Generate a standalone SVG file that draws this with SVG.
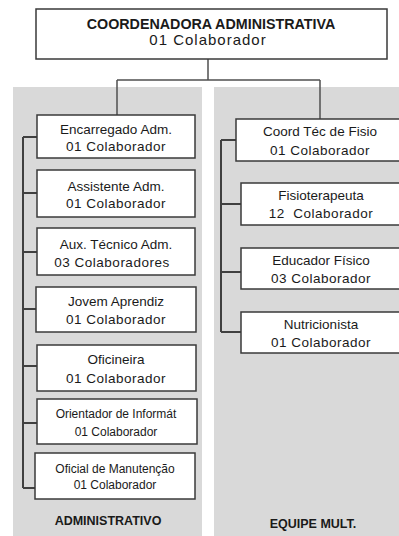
<svg xmlns="http://www.w3.org/2000/svg" width="399" height="536" viewBox="0 0 399 536">
<style>
.panel{fill:#d9d9d9}
.box{fill:#ffffff;stroke:#3a3a3a;stroke-width:1.5}
.t{font-family:"Liberation Sans",Arial,sans-serif;font-size:13.5px;fill:#1a1a1a;text-anchor:middle}
.s{font-size:12px}
.c2{letter-spacing:0.5px}
.b{font-weight:bold}
.conn{fill:none;stroke:#505050;stroke-width:1.5}
.tick{fill:none;stroke:#404040;stroke-width:2}
</style>
<rect class="panel" x="13" y="87" width="189" height="449"/>
<rect class="panel" x="214" y="87" width="185" height="449"/>
<text class="t b" x="108" y="525" style="font-size:12.5px">ADMINISTRATIVO</text>
<text class="t b" x="313" y="528" style="font-size:12.5px">EQUIPE MULT.</text>
<g id="connectors">
<path class="conn" d="M208 59V80M117 80H320M117 80V115M320 80V119"/>
<path class="tick" d="M23 137V488M23 137H37M23 193H37M23 252H37M23 309H36M23 366H37M23 423H37M23 488H35"/>
<path class="tick" d="M221 140V332M221 140H236M221 204H241M221 272H241M221 332H241"/>
</g>
<g id="coord">
<rect class="box" x="36" y="9" width="351" height="50"/>
<text class="t b" x="211" y="29" style="font-size:14.3px">COORDENADORA ADMINISTRATIVA</text>
<text class="t" x="208" y="45" style="font-size:15px;letter-spacing:1px">01 Colaborador</text>
</g>
<g id="encarregado">
<rect class="box" x="37" y="115" width="158" height="43"/>
<text class="t" x="116" y="134">Encarregado Adm.</text>
<text class="t c2" x="116" y="151">01 Colaborador</text>
</g>
<g id="assistente">
<rect class="box" x="37" y="170" width="158" height="47"/>
<text class="t" x="116" y="191">Assistente Adm.</text>
<text class="t c2" x="116" y="208">01 Colaborador</text>
</g>
<g id="aux">
<rect class="box" x="37" y="228" width="158" height="47"/>
<text class="t" x="116" y="249">Aux. Técnico Adm.</text>
<text class="t c2" x="112" y="267">03 Colaboradores</text>
</g>
<g id="jovem">
<rect class="box" x="36" y="287" width="160" height="45"/>
<text class="t" x="116" y="306">Jovem Aprendiz</text>
<text class="t c2" x="116" y="324">01 Colaborador</text>
</g>
<g id="oficineira">
<rect class="box" x="37" y="345" width="159" height="46"/>
<text class="t" x="116" y="364">Oficineira</text>
<text class="t c2" x="116" y="383">01 Colaborador</text>
</g>
<g id="orientador">
<rect class="box" x="37" y="399" width="160" height="45"/>
<text class="t s" x="116" y="418">Orientador de Informát</text>
<text class="t s" x="116" y="436">01 Colaborador</text>
</g>
<g id="oficial">
<rect class="box" x="35" y="453" width="160" height="46"/>
<text class="t s" x="115" y="473">Oficial de Manutenção</text>
<text class="t s" x="115" y="489">01 Colaborador</text>
</g>
<g id="coordtec">
<rect class="box" x="236" y="119" width="170" height="42"/>
<text class="t" x="320" y="136">Coord Téc de Fisio</text>
<text class="t c2" x="320" y="155">01 Colaborador</text>
</g>
<g id="fisio">
<rect class="box" x="241" y="183" width="165" height="42"/>
<text class="t" x="321" y="200">Fisioterapeuta</text>
<text class="t c2" x="321" y="218" style="white-space:pre">12  Colaborador</text>
</g>
<g id="educador">
<rect class="box" x="241" y="248" width="165" height="41"/>
<text class="t" x="321" y="265">Educador Físico</text>
<text class="t c2" x="321" y="283">03 Colaborador</text>
</g>
<g id="nutri">
<rect class="box" x="241" y="312" width="165" height="41"/>
<text class="t" x="321" y="329">Nutricionista</text>
<text class="t c2" x="321" y="347">01 Colaborador</text>
</g>
</svg>
